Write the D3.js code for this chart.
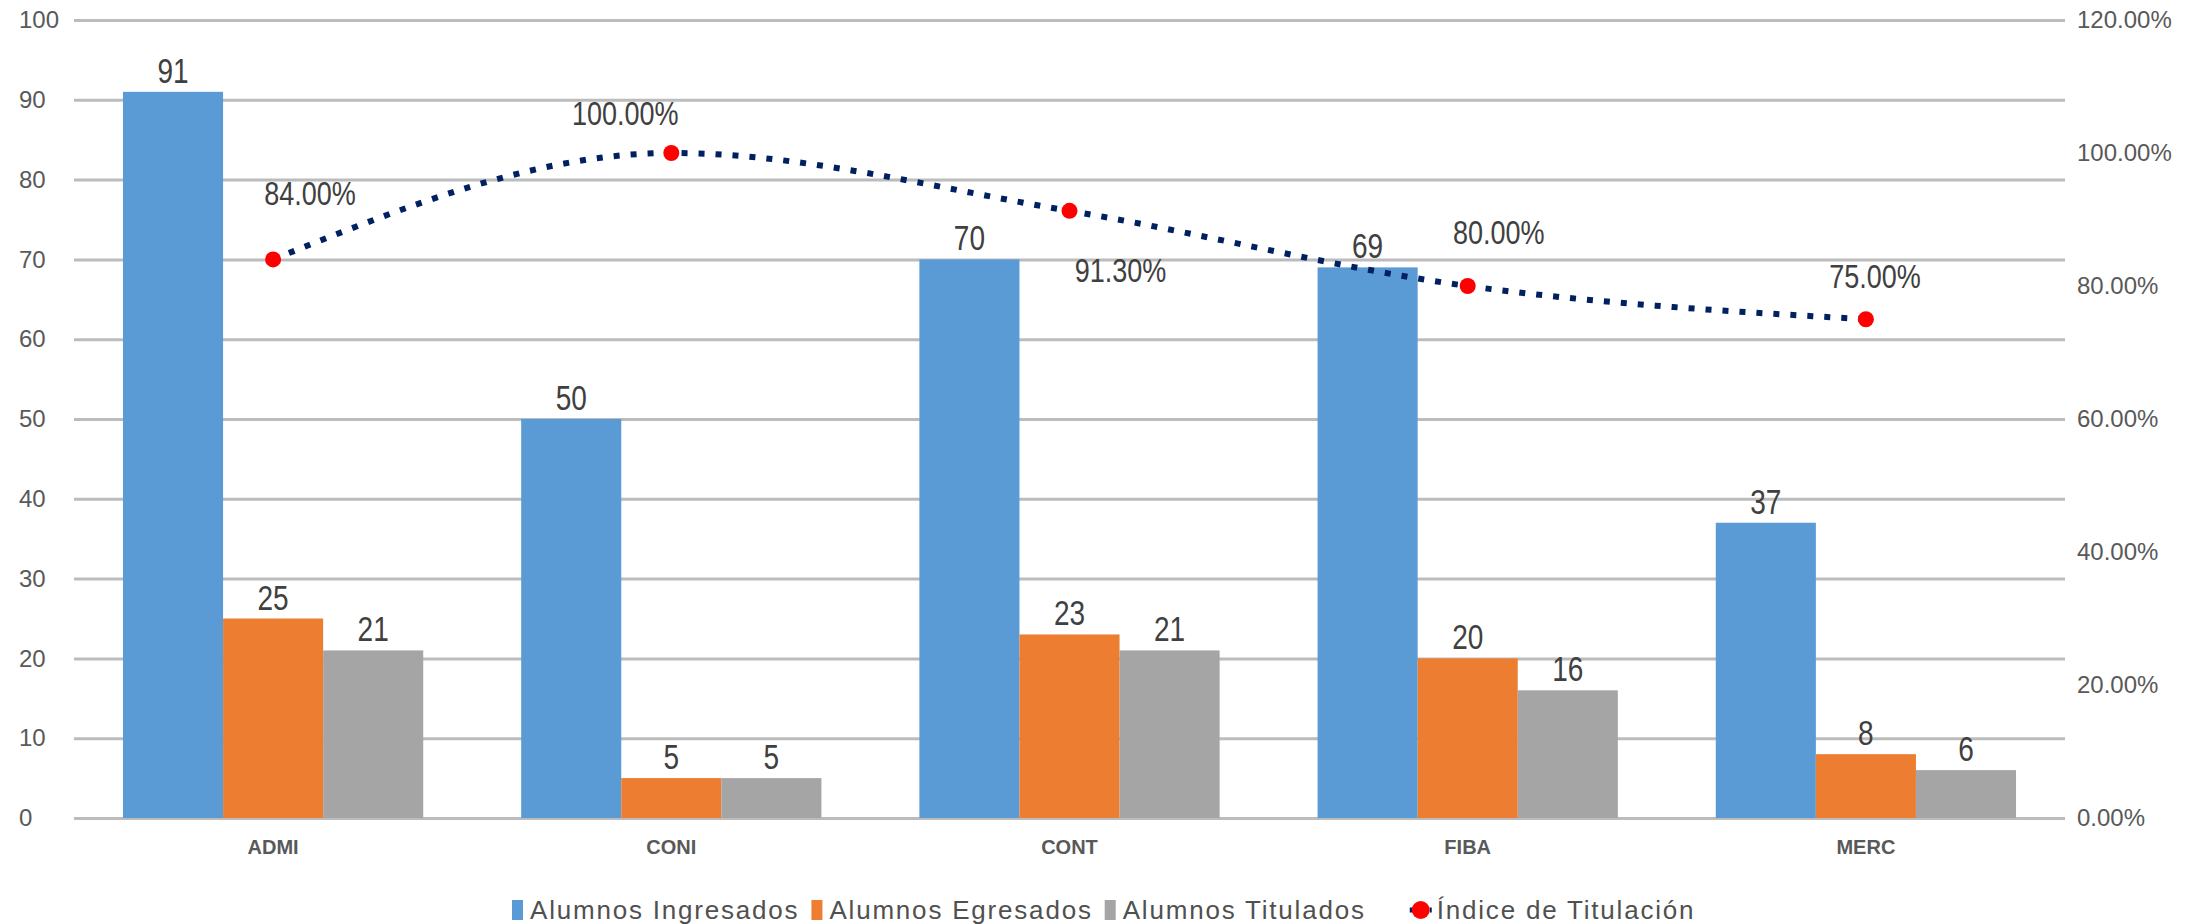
<!DOCTYPE html>
<html>
<head>
<meta charset="utf-8">
<script src="https://cdn.jsdelivr.net/npm/d3@7"></script>
<style>
  body { margin: 0; background: #fff; }
  svg { display: block; font-family: "Liberation Sans", Arial, sans-serif; }
</style>
</head>
<body>
<div id="chart"></div>
<script>
const carreras = ["ADMI", "CONI", "CONT", "FIBA", "MERC"];
const ingresados = [91, 50, 70, 69, 37];
const egresados = [25, 5, 23, 20, 8];
const titulados = [21, 5, 21, 16, 6];
const indice = [0.84, 1.00, 0.913, 0.80, 0.75];

const seriesNames = ["Alumnos Ingresados", "Alumnos Egresados", "Alumnos Titulados"];
const lineName = "Índice de Titulación";
const leftTicks = [0, 10, 20, 30, 40, 50, 60, 70, 80, 90, 100];
const rightTicks = [0, 0.2, 0.4, 0.6, 0.8, 1.0, 1.2];

// where excel left the percent labels (offset from the point)
const pctNudge = [[37, -66], [-46, -40], [51, 59], [31, -54], [9, -43]];

const W = 2206, H = 924;
const margin = {top: 20, right: 141, bottom: 106, left: 74};
const innerW = W - margin.left - margin.right;
const innerH = H - margin.top - margin.bottom;

const colors = ["#5b9bd5", "#ed7d31", "#a5a5a5"];
const textGray = "#595959";

const svg = d3.select("#chart").append("svg")
    .attr("width", W)
    .attr("height", H);

const g = svg.append("g").attr("transform", `translate(${margin.left},${margin.top})`);

const x0 = d3.scaleBand().domain(carreras).range([0, innerW]).paddingInner(0.246).paddingOuter(0.123);
const x1 = d3.scaleBand().domain(seriesNames).range([0, x0.bandwidth()]);
const y = d3.scaleLinear().domain([0, 100]).range([innerH, 0]);
const y2 = d3.scaleLinear().domain([0, 1.2]).range([innerH, 0]);

// left axis + gridlines
const ax = g.append("g")
    .call(d3.axisLeft(y).tickValues(leftTicks).tickSize(-innerW).tickFormat(d3.format("d")));
ax.select(".domain").remove();
ax.selectAll("line").attr("stroke", "#bcbcbc").attr("stroke-width", 3);
ax.selectAll("text")
    .attr("x", 19 - margin.left)
    .attr("text-anchor", "start")
    .attr("fill", textGray)
    .style("font-size", "24px");

// right axis
const ax2 = g.append("g").attr("transform", `translate(${innerW},0)`)
    .call(d3.axisRight(y2).tickValues(rightTicks).tickSize(0).tickPadding(12).tickFormat(d3.format(".2%")));
ax2.select(".domain").remove();
ax2.selectAll("text").attr("fill", textGray).style("font-size", "24px");

// bottom axis
const ax3 = g.append("g").attr("transform", `translate(0,${innerH})`)
    .call(d3.axisBottom(x0).tickSize(0).tickPadding(22));
ax3.select(".domain").remove();
ax3.selectAll("text").attr("fill", textGray).style("font-size", "20px").style("font-weight", "bold");

const rows = carreras.map((c, i) => ({
    carrera: c,
    vals: [ingresados[i], egresados[i], titulados[i]]
}));

const groups = g.selectAll("g.grp")
    .data(rows)
    .join("g")
    .attr("class", "grp")
    .attr("transform", d => `translate(${x0(d.carrera)},0)`);

groups.selectAll("rect")
    .data(d => d.vals.map((v, k) => ({name: seriesNames[k], v: v, k: k})))
    .join("rect")
    .attr("x", d => x1(d.name))
    .attr("y", d => y(d.v))
    .attr("width", x1.bandwidth())
    .attr("height", d => innerH - y(d.v))
    .attr("fill", d => colors[d.k]);

groups.selectAll("text.val")
    .data(d => d.vals.map((v, k) => ({name: seriesNames[k], v: v})))
    .join("text")
    .attr("class", "val")
    .attr("transform", d => `translate(${x1(d.name) + x1.bandwidth() / 2},${y(d.v) - 9}) scale(1,1.25)`)
    .attr("text-anchor", "middle")
    .attr("fill", "#404040")
    .style("font-size", "28px")
    .text(d => d.v);

// titulation line
const pts = carreras.map((c, i) => ({c: c, v: indice[i], i: i}));
const cx = d => x0(d.c) + x0.bandwidth() / 2;

g.append("path")
    .datum(pts)
    .attr("fill", "none")
    .attr("stroke", "#002060")
    .attr("stroke-width", 6)
    .attr("stroke-dasharray", "6,11")
    .attr("d", d3.line().x(cx).y(d => y2(d.v)).curve(d3.curveMonotoneX));

g.selectAll("circle.pt")
    .data(pts)
    .join("circle")
    .attr("class", "pt")
    .attr("cx", cx)
    .attr("cy", d => y2(d.v))
    .attr("r", 8)
    .attr("fill", "#ff0000");

g.selectAll("text.pct")
    .data(pts)
    .join("text")
    .attr("class", "pct")
    .attr("transform", d => `translate(${cx(d) + pctNudge[d.i][0]},${y2(d.v) + pctNudge[d.i][1]}) scale(1,1.25)`)
    .attr("dy", "0.35em")
    .attr("text-anchor", "middle")
    .attr("fill", "#404040")
    .style("font-size", "27px")
    .text(d => d3.format(".2%")(d.v));

// legend
const legend = svg.append("g").attr("transform", "translate(512,910)");
let lx = 0;
seriesNames.concat([lineName]).forEach((name, k) => {
    let tx;
    if (k === 3) lx += 36;  // line entry sits a bit further out
    const item = legend.append("g").attr("transform", `translate(${lx},0)`);
    if (k < 3) {
        item.append("rect").attr("x", 0).attr("y", -10).attr("width", 11).attr("height", 20).attr("fill", colors[k]);
        tx = 18;
    } else {
        item.append("line").attr("x1", -4).attr("x2", 18).attr("y1", 0).attr("y2", 0)
            .attr("stroke", "#002060").attr("stroke-width", 5).attr("stroke-dasharray", "5,5");
        item.append("circle").attr("cx", 7).attr("cy", 0).attr("r", 9).attr("fill", "#ff0000");
        tx = 23;
    }
    const t = item.append("text")
        .attr("x", tx)
        .attr("dy", "0.35em")
        .attr("fill", "#505050")
        .style("font-size", "26px")
        .style("letter-spacing", "1.8px")
        .text(name);
    lx += tx + t.node().getComputedTextLength() + 12;
});
</script>
</body>
</html>
